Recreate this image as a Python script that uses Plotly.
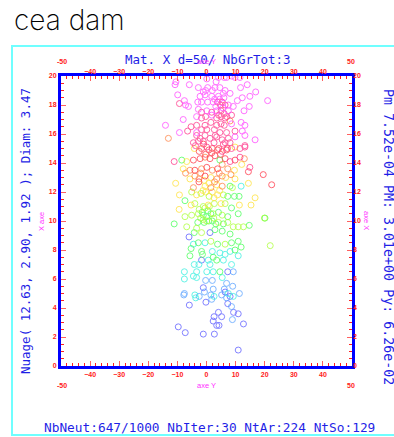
import plotly.graph_objects as go

# ---------------- data (axe Y, axe X) ----------------
x_tick_vals = [-40, -30, -20, -10, 0, 10, 20, 30, 40]
y_tick_vals = [0, 2, 4, 6, 8, 10, 12, 14, 16, 18, 20]

magenta_pts = [(-10.5,19.6),(-10.8,19.4),(-5.9,19.4),(-2.8,19.2),(0.1,19.8),(0.4,19.2),(-0.3,19.0),(3.3,19.6),
    (2.9,19.2),(4.1,19.9),(6.1,19.9),(6.9,19.9),(8.6,20.0),(9.8,19.9),(11.5,19.9),(4.6,19.2),(6.4,19.0),(8.1,18.8),
    (5.8,18.8),(2.0,19.0),(-1.1,18.9),(-2.2,18.6),(-0.5,18.7),(1.8,18.6),(4.1,18.6),(-9.9,18.7),(-7.6,18.3),(-7.2,18.0),
    (-6.2,17.9),(-3.0,18.2),(-1.7,18.2),(0.4,18.2),(2.3,18.2),(7.5,18.0),(9.2,17.9),(10.6,18.3),(12.3,18.5),(14.0,19.4),
    (11.7,19.2),(16.9,18.9),(14.9,18.6),(21.0,18.3),(12.9,17.6),(14.7,17.9),(-2.8,17.7),(0.1,17.6),(3.5,17.6),(7.5,17.6),
    (-3.4,17.2),(1.8,17.3),(-8.0,17.0),(8.6,16.7),(11.9,16.8),(13.2,16.6),(-14.1,16.6),(-9.3,16.1),(-3.4,16.1),(12.3,16.2),
    (13.2,15.9),(16.7,15.6),(9.8,15.8),(2.8,18.4),(4.5,18.4),(6.0,18.5),(3.2,17.9),(5.6,17.8)]
pink_pts = [(-9.3,18.1),(3.8,18.2),(4.8,18.0),(5.4,18.2),(6.4,18.0),(-1.7,17.5),(1.8,17.5),(5.0,17.6),(6.1,17.4),
    (8.6,17.3),(-1.7,17.1),(-0.3,17.2),(3.5,17.1),(5.0,17.2),(6.4,17.1),(-5.3,16.5),(-3.4,16.6),(-0.5,16.6),(1.5,16.8),
    (3.5,16.6),(5.0,16.7),(6.1,16.6),(-6.5,16.2),(-1.7,16.3),(0.1,16.3),(2.7,16.3),(4.6,16.1),(6.9,16.1),(9.8,16.2),
    (-3.4,15.9),(-2.2,15.7),(-0.5,15.9),(1.2,15.7),(3.5,15.8),(5.4,15.6),(7.5,15.7),(-2.8,15.5),(-1.1,15.5),(-4.5,15.4),
    (6.4,15.4),(8.1,15.4),(13.2,15.2),(0.1,15.1),(5.4,14.8),(8.6,15.0),(11.5,15.0),(13.2,15.1),(-11.1,14.1),(8.1,14.1),
    (11.5,14.4),(14.9,13.7),(7.0,17.2),(4.2,17.3),(3.0,15.9),(-3.8,15.2),(2.6,15.4),(5.8,15.3)]
red_pts = [(-1.7,15.0),(2.0,15.0),(3.8,14.9),(6.9,14.9),(-4.5,14.2),(-2.2,14.3),(1.2,14.3),(2.9,14.5),(6.4,14.3),
    (9.8,14.2),(-4.0,13.5),(0.1,13.7),(3.8,13.6),(14.4,13.4),(19.5,13.2),(22.4,12.5),(-0.5,13.1),(-2.6,12.7),
    (-2.5,14.8),(-1.0,15.3),(0.8,14.9),(4.2,15.0),(7.2,15.0),(-0.3,14.6),(1.8,14.7),(4.8,14.6)]
orange_pts = [(8.1,16.9),(-13.1,15.7),(-0.5,14.4),(13.0,14.3),(-5.7,13.5),(-1.7,13.6),(2.0,13.5),(5.4,13.9),(7.3,13.6),
    (-7.2,13.3),(-4.0,13.1),(-2.6,12.9),(3.5,12.9),(5.4,13.1),(8.4,13.2),(-4.5,12.3),(1.5,12.3),(5.4,12.4),
    (-2.0,13.3),(4.4,13.3),(2.8,12.7)]
yellow_pts = [(-4.2,15.0),(9.8,15.1),(-6.8,14.1),(-8.0,13.6),(12.1,13.9),(9.6,13.5),(-5.7,12.9),(1.5,13.0),(6.6,13.0),
    (9.8,12.9),(-10.6,12.6),(-0.5,12.4),(3.5,12.5),(14.4,12.6),(-9.3,11.8),(-3.4,11.8),(-0.3,12.0),(2.0,12.0),(3.8,11.8),
    (16.7,11.6),(-5.3,11.1),(0.6,11.1),(5.0,11.2),(11.3,11.1),(15.3,11.1),(-9.4,10.8),(-0.8,12.8),(0.8,12.6),
    (-1.2,12.1),(4.5,12.1),(2.6,11.6)]
ygreen_pts = [(8.9,12.3),(-5.1,12.0),(-1.9,11.9),(5.8,11.8),(-4.0,11.2),(-1.1,11.0),(2.7,11.2),(6.4,11.2),(-7.4,10.3),
    (-5.1,10.4),(-2.8,10.5),(2.3,10.5),(5.4,10.4),(-6.8,9.6),(-3.4,9.5),(-1.1,10.1),(0.1,10.0),(4.1,9.9),(7.3,9.9),
    (9.2,9.6),(10.9,9.6),(12.7,9.6),(19.9,10.2),(-1.7,9.2),(1.5,8.6),(6.4,8.4),(21.9,8.3),(0.9,11.7),(-2.5,10.8),
    (-0.5,10.9),(1.0,11.0),(-2.0,10.2),(2.5,10.2)]
green_pts = [(-8.5,14.2),(4.6,14.2),(8.1,12.4),(7.3,11.7),(9.6,11.7),(11.2,11.7),(-7.4,11.4),(8.6,10.9),(-1.1,10.4),
    (0.1,10.3),(4.1,10.6),(7.3,10.3),(10.9,10.5),(20.1,10.2),(-11.1,9.8),(2.0,10.0),(5.8,9.8),(14.7,9.7),(-4.2,9.2),
    (2.9,9.4),(5.4,9.3),(8.1,9.1),(-2.8,8.5),(3.8,8.4),(8.6,8.5),(10.9,8.6),(11.9,8.2),(-5.3,8.1),(-1.7,7.9),(9.8,8.0),
    (-5.7,7.6),(-1.4,7.7),(2.3,7.5),(3.5,7.3),(4.6,6.5),(-1.5,10.6),(0.5,10.7),(1.5,10.5),(-0.8,9.9),(0.8,10.0),
    (3.2,9.8),(-3.0,9.9)]
cyan_pts = [(11.9,12.4),(-4.5,8.4),(-0.5,8.5),(2.0,7.9),(4.6,7.8),(6.4,7.7),(8.1,7.9),(10.9,7.6),(0.6,7.3),(5.8,7.3),
    (8.6,7.0),(-4.2,7.0),(-2.6,7.0),(1.2,7.0),(-7.6,6.5),(-3.4,6.5),(0.1,6.5),(2.3,6.5),(-7.6,6.0),(-4.5,6.2),(-3.4,6.1),
    (5.4,6.1),(-4.0,4.9),(2.6,4.8),(-3.7,4.7),(7.5,5.0),(9.2,4.8)]
lblue_pts = [(9.2,6.5),(-0.3,5.9),(2.0,5.9),(6.9,5.7),(2.3,5.3),(6.1,5.3),(9.0,5.5),(-7.6,5.0),(-7.8,4.9),(-2.5,4.8),
    (-0.7,5.1),(1.5,4.9),(1.8,4.6),(5.2,4.9),(6.9,4.7),(11.3,5.0),(8.6,4.1),(8.9,3.2)]
blue_pts = [(-6.0,8.9),(1.2,9.2),(-1.7,7.3),(7.3,6.5),(-1.1,5.4),(6.4,5.1),(8.1,4.8),(-5.9,4.2),(-0.2,4.4),(7.3,4.3),
    (9.3,3.7),(4.1,3.7),(10.9,3.6),(2.6,3.4),(5.2,3.4),(2.3,3.1),(12.7,2.9),(-9.7,2.7),(3.5,2.8),(4.3,2.8),(-7.3,2.3),
    (-1.1,2.2),(2.7,2.2),(10.9,1.1)]

groups = [
    ("#5a5aff", blue_pts), ("#55a0ff", lblue_pts), ("#33f0e0", cyan_pts), ("#44ff55", green_pts),
    ("#aaff33", ygreen_pts), ("#ffe233", yellow_pts), ("#ff8040", orange_pts), ("#ff3344", red_pts),
    ("#ff3388", pink_pts), ("#ff44ff", magenta_pts),
]

# ---------------- figure ----------------
W, H = 394, 437
L, R, T, B = 61, 352, 76, 366


def px(p):
    return (p - L) / (R - L)


def py(p):
    return (B - p) / (B - T)


fig = go.Figure()
for col, pts in groups:
    fig.add_trace(go.Scatter(
        x=[p[0] for p in pts], y=[p[1] for p in pts], mode="markers",
        marker=dict(symbol="circle-open", size=6, color=col, line=dict(width=1, color=col)),
        opacity=0.75, showlegend=False, hoverinfo="skip"))
# invisible trace to activate the secondary (top/right) axes
fig.add_trace(go.Scatter(x=[0], y=[0], xaxis="x2", yaxis="y2", mode="markers",
                         marker=dict(size=1, opacity=0), showlegend=False, hoverinfo="skip"))

RED = "#ff2020"
BLUE = "#0000ff"
TXT = "#1f1fe6"
MAG = "#ff30ff"
tickfont = dict(family="Liberation Sans", size=7, color=RED, weight="bold")

common = dict(showgrid=False, zeroline=False)
fig.update_layout(
    width=W, height=H, margin=dict(l=L, r=W - R, t=T, b=H - B, pad=0),
    paper_bgcolor="white", plot_bgcolor="white",
    xaxis=dict(range=[-50, 50], tickvals=x_tick_vals, ticks="inside", ticklen=5, tickwidth=1, tickcolor="#ff6060",
               showline=True, linecolor=BLUE, linewidth=3, mirror="ticks", tickfont=tickfont,
               minor=dict(dtick=2, ticks="inside", ticklen=3, tickwidth=1, tickcolor=RED), **common),
    yaxis=dict(range=[0, 20], tickvals=y_tick_vals, ticks="inside", ticklen=5, tickwidth=1, tickcolor="#ff6060",
               showline=True, linecolor=BLUE, linewidth=3, mirror="ticks", tickfont=tickfont,
               minor=dict(dtick=0.5, ticks="inside", ticklen=3, tickwidth=1, tickcolor=RED), **common),
    xaxis2=dict(range=[-50, 50], tickvals=x_tick_vals, overlaying="x", side="top", ticks="", showline=False,
                tickfont=tickfont, **common),
    yaxis2=dict(range=[0, 20], tickvals=y_tick_vals, overlaying="y", side="right", ticks="", showline=False,
                tickfont=tickfont, **common),
)

mono = "DejaVu Sans Mono"


def ann(text, x, y, size, color, family=mono, angle=0, xanchor="center", yanchor="middle", weight="normal"):
    fig.add_annotation(text=text, x=px(x), y=py(y), xref="paper", yref="paper", showarrow=False,
                       xanchor=xanchor, yanchor=yanchor, textangle=angle, borderpad=0,
                       font=dict(family=family, size=size, color=color, weight=weight))


ann("Mat. X d=50/ NbGrTot:3", 208, 59, 12.5, TXT)
for yy in (61, 385):
    ann("-50", 62, yy, 7, RED, family="Liberation Sans", weight="bold")
    ann("50", 351, yy, 7, RED, family="Liberation Sans", weight="bold")
    ann("axe Y", 206, yy, 7.5, MAG, family="Liberation Sans")
ann("X axe", 41, 222, 7.5, MAG, family="Liberation Sans", angle=-90)
ann("axe X", 367, 220, 7.5, MAG, family="Liberation Sans", angle=90)
ann("Nuage( 12.63, 2.90, 1.92 ); Diam: 3.47", 25, 231, 12.5, TXT, angle=-90)
ann("Pm 7.52e-04 PM: 3.01e+00 Py: 6.26e-02", 389, 237, 13.3, TXT, angle=90)
ann("NbNeut:647/1000 NbIter:30 NtAr:224 NtSo:129", 43, 427, 12.8, TXT, xanchor="left")
ann("cea dam", 13, 20, 28, "black", family="Inter", xanchor="left", weight=200)

fig.add_shape(type="rect", xref="paper", yref="paper", x0=px(12), x1=px(398), y0=py(435), y1=py(46),
              line=dict(color="#70ffff", width=2), fillcolor="rgba(0,0,0,0)", layer="below")

fig.write_html("out.html", post_script="document.body.style.margin='0px';",
               config={"displayModeBar": False})
